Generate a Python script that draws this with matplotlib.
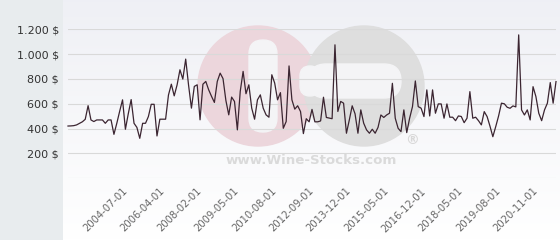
import numpy as np
import matplotlib
matplotlib.use('Agg')
import matplotlib.pyplot as plt
from matplotlib.patches import Circle, FancyBboxPatch

# prices, one per auction date
prices = [421, 422, 424, 430, 443, 455, 475, 585, 470, 457,
          470, 470, 470, 443, 470, 470, 354, 443, 540, 632,
          395, 520, 634, 443, 410, 322, 443, 443, 497, 596,
          596, 341, 476, 476, 476, 671, 758, 664, 752, 874,
          799, 960, 750, 565, 740, 753, 471, 758, 780, 713,
          660, 611, 780, 847, 803, 627, 511, 654, 619, 390,
          700, 861, 681, 753, 565, 476, 632, 672, 565, 511,
          492, 834, 767, 632, 690, 403, 457, 905, 632, 557,
          584, 538, 360, 480, 455, 555, 455, 455, 462, 653,
          490, 485, 480, 1075, 538, 619, 605, 363, 470, 584,
          519, 363, 551, 444, 390, 363, 395, 363, 410, 510,
          490, 510, 524, 765, 484, 403, 376, 551, 368, 483,
          577, 784, 577, 565, 497, 712, 502, 712, 524, 599,
          599, 484, 599, 492, 492, 464, 502, 498, 448, 484,
          698, 484, 492, 464, 430, 537, 497, 420, 335, 416,
          502, 605, 600, 572, 564, 583, 575, 1155, 551, 510,
          551, 470, 738, 658, 524, 464, 551, 605, 771, 605,
          779]

# only every 13th date is labelled on the axis
tick_pos = [20, 33, 46, 59, 72, 85, 98, 111, 124, 137, 150, 163]
tick_labels = ['2004-07-01', '2006-04-01', '2008-02-01', '2009-05-01',
               '2010-08-01', '2012-09-01', '2013-12-01', '2015-05-01',
               '2016-12-01', '2018-05-01', '2019-08-01', '2020-11-01']
y_ticks = [0, 200, 400, 600, 800, 1000, 1200]
y_labels = ['', '200 $', '400 $', '600 $', '800 $', '1.000 $', '1.200 $']

W, H = 560, 240
fig = plt.figure(figsize=(W / 100, H / 100), dpi=100)
fig.patch.set_facecolor('#e8ecee')

# background layer in pixel coordinates (gradient + watermark)
bg = fig.add_axes([0, 0, 1, 1])
bg.set_xlim(0, W)
bg.set_ylim(H, 0)
bg.axis('off')
grad = np.linspace(0, 1, 100).reshape(-1, 1)
top = np.array([0.937, 0.941, 0.961])
bot = np.array([1.0, 1.0, 1.0])
img = top + (bot - top) * grad[..., None]
bg.imshow(img, extent=[63, W, H, 0], aspect='auto', zorder=0)

# wine-stocks logo watermark
bg.add_patch(Circle((258, 86), 60, color='#ecd6dc', zorder=1))
bg.add_patch(Circle((364, 86), 60, color='#dedede', zorder=1))
bg.add_patch(FancyBboxPatch((309, 64), 92, 34, boxstyle='round,pad=0,rounding_size=17',
                            color='#f4f4f6', zorder=2))
bg.add_patch(FancyBboxPatch((249, 40), 28, 92, boxstyle='round,pad=0,rounding_size=14',
                            color='#f4f4f6', zorder=2))
bg.add_patch(FancyBboxPatch((300, 66), 20, 30, boxstyle='round,pad=0,rounding_size=10',
                            color='#f4f4f6', zorder=2))
bg.text(311, 161, 'www.Wine-Stocks.com', ha='center', va='center', fontsize=9.6,
        fontweight='bold', color='#dadada', zorder=3)
bg.text(412, 140, '®', ha='center', va='center', fontsize=10,
        fontweight='bold', color='#d8d8d8', zorder=3)

# main chart
x0, x1 = 68, 556
ytop, ybot = 29.3, 178.3
ax = fig.add_axes([x0 / W, 1 - ybot / H, (x1 - x0) / W, (ybot - ytop) / H])
ax.patch.set_alpha(0)
x = np.arange(len(prices))
ax.plot(x, prices, color='#3b2531', lw=0.9, zorder=3, clip_on=False)
ax.set_xlim(0, len(prices) - 1)
ax.set_ylim(0, 1200)

ax.set_yticks(y_ticks)
ax.set_yticklabels(y_labels, fontsize=8, color='#333333')
ax.grid(axis='y', color='#d9d9d9', lw=0.8, zorder=1)
ax.set_xticks(tick_pos)
ax.set_xticklabels(tick_labels, rotation=45, ha='right', va='center',
                   rotation_mode='anchor', fontsize=7.2, color='#666666')
ax.tick_params(axis='both', length=0)
ax.tick_params(axis='y', pad=6.5)
ax.tick_params(axis='x', pad=8)
for s in ax.spines.values():
    s.set_visible(False)

plt.savefig('out.png', dpi=100)
